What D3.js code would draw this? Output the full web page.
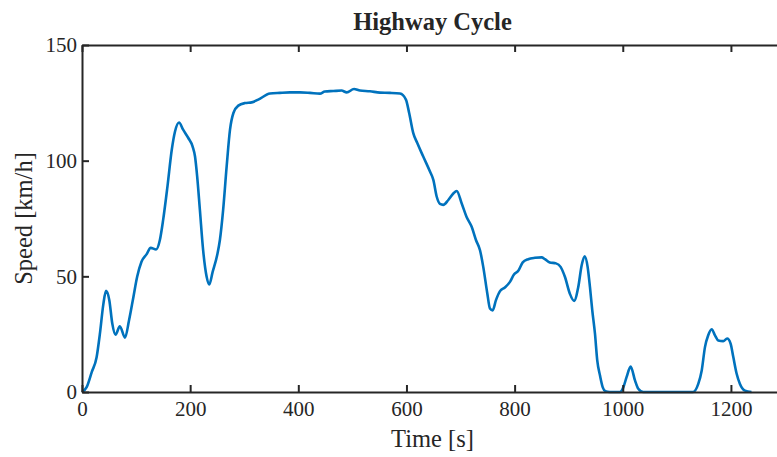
<!DOCTYPE html>
<html>
<head>
<meta charset="utf-8">
<script src="https://cdn.jsdelivr.net/npm/d3@7"></script>
<style>
  html, body { margin: 0; padding: 0; background: #fff; }
  svg { display: block; }
  text { font-family: "Liberation Serif", "Times New Roman", serif; fill: #262626; }
</style>
</head>
<body>
<svg id="chart" width="777" height="457"></svg>
<script>
const title = "Highway Cycle";
const xLabel = "Time [s]";
const yLabel = "Speed [km/h]";
const xTicks = [0, 200, 400, 600, 800, 1000, 1200];
const yTicks = [0, 50, 100, 150];

const time = [0,8.6,18,27,33,39.5,44.4,50.5,56,62,70,79.5,87,95,102,110,119.6,127,137,144,150,158,166,172,179.4,187,196.6,204.6,209,213,218,224,230.5,235.4,241.6,250,255,261,267.5,273.7,280,289,301.4,313.8,326,347.6,366,384.6,403,421.6,440,449,464.7,480,489.5,503,514,532.5,551,569.5,588,599,605,612.6,620,631,643.5,649.7,656,662,668,677.4,686.6,693,702,711,720.6,728.5,736,742,749.5,754.4,759.4,765.5,773,782,791.4,798.8,806.8,815,825,837.6,850,856,865,876.5,885,893,902,910,917.7,924,929.5,935,939.3,943.6,948.6,952.8,958,963,968,976,995,1001,1007,1014.6,1022.6,1028.7,1038,1130,1139.6,1146,1152,1158,1164.4,1170.5,1176.6,1185.8,1193,1199.4,1204.4,1210.6,1216.7,1226,1238];
const speed = [0,2.1,8.6,15,25,38,43.7,39.7,29.6,24.8,28.4,23.5,31,41,49.8,56.3,59.6,62.3,61.6,65.7,74.3,88.8,104.7,112.6,116.5,113.4,109.8,106.1,101.8,93.1,78.7,61.3,49.8,46.5,51.9,59.2,65.7,78.7,97.5,113.4,120.6,123.8,124.9,125.2,126.4,129.0,129.3,129.5,129.5,129.3,129.0,129.9,130.1,130.3,129.5,131,130.3,130,129.4,129.3,129,126.4,120.6,111.9,107.6,101.8,95.3,91.7,84.4,81.3,80.9,83,85.8,86.9,81.6,75.8,71.4,65.7,61.3,54.1,42.6,36.1,35.3,39.7,43.6,45.2,47.6,50.8,52.4,56,57.4,58,58.2,57.4,56,55.6,54.1,49.8,42.6,39.4,45.4,54.8,58.7,54.1,45.4,35.3,25.2,13.7,7,2,0.3,0,0,2,6.4,11,5,1.4,0,0,3.5,9.3,19.4,24.5,27.1,24.5,22.3,22,23.1,20.9,15.1,7.9,3.5,0.6,0];

const data = time.map((t, i) => ({ t, v: speed[i] }));

const svg = d3.select("#chart");
const L = 82, R = 785, T = 45, B = 392;

const x = d3.scaleLinear().domain([0, 1300]).range([L, R]);
const y = d3.scaleLinear().domain([0, 150]).range([B, T]);

const axisColor = "#262626";

const line = d3.line().x(d => x(d.t)).y(d => y(d.v)).curve(d3.curveMonotoneX);
svg.append("path").datum(data)
  .attr("d", line)
  .attr("fill", "none")
  .attr("stroke", "#0072BD")
  .attr("stroke-width", 2.6)
  .attr("stroke-linejoin", "round");

function styleAxis(g) {
  g.select(".domain").attr("stroke", axisColor).attr("stroke-width", 2);
  g.selectAll(".tick line").attr("stroke", axisColor).attr("stroke-width", 2);
  g.selectAll(".tick text").attr("fill", axisColor).style("font-size", "21px")
    .style("font-family", "'Liberation Serif', serif");
}

svg.append("g").attr("transform", `translate(0,${B})`)
  .call(d3.axisBottom(x).tickValues(xTicks).tickSizeInner(-7).tickSizeOuter(0).tickPadding(9).tickFormat(d3.format("d")))
  .call(styleAxis);

svg.append("g").attr("transform", `translate(0,${T})`)
  .call(d3.axisTop(x).tickValues(xTicks).tickSizeInner(-7).tickSizeOuter(0).tickFormat(""))
  .call(styleAxis);

svg.append("g").attr("transform", `translate(${L},0)`)
  .call(d3.axisLeft(y).tickValues(yTicks).tickSizeInner(-7).tickSizeOuter(0).tickPadding(5).tickFormat(d3.format("d")))
  .call(styleAxis);

svg.append("g").attr("transform", `translate(${R},0)`)
  .call(d3.axisRight(y).tickValues(yTicks).tickSizeInner(-7).tickSizeOuter(0).tickFormat(""))
  .call(styleAxis);

svg.append("text")
  .attr("x", (L + R) / 2 - 1).attr("y", 29.5)
  .attr("text-anchor", "middle")
  .style("font-size", "24.5px").style("font-weight", "bold")
  .text(title);

svg.append("text")
  .attr("x", (L + R) / 2 - 1).attr("y", 447)
  .attr("text-anchor", "middle")
  .style("font-size", "24.5px")
  .text(xLabel);

svg.append("text")
  .attr("transform", `translate(32,${(T + B) / 2}) rotate(-90)`)
  .attr("text-anchor", "middle")
  .style("font-size", "24.5px")
  .text(yLabel);
</script>
</body>
</html>
